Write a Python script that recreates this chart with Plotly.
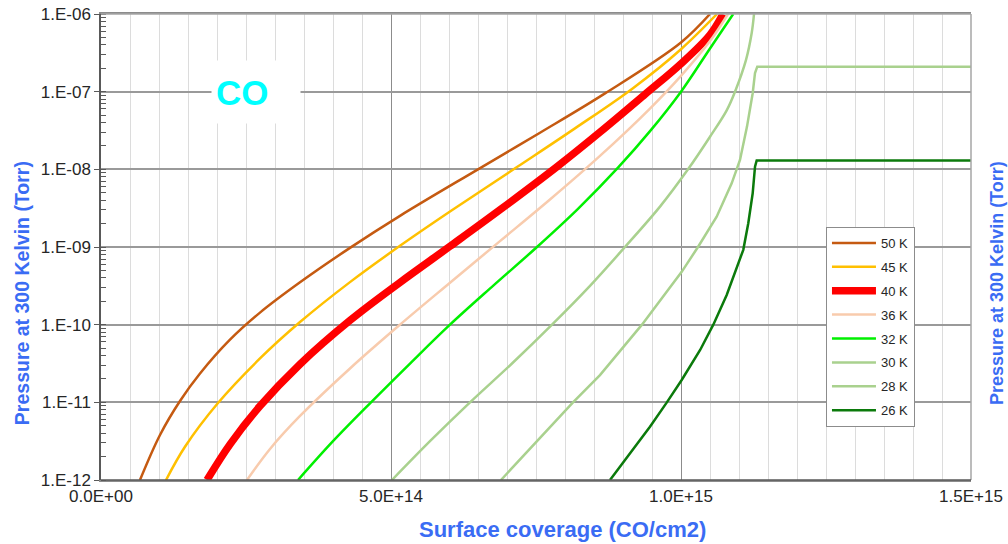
import plotly.graph_objects as go

# Adsorption isotherms of CO: equilibrium pressure (read at 300 K) vs surface coverage
labels = ["50 K", "45 K", "40 K", "36 K", "32 K", "30 K", "28 K", "26 K"]

cov_50 = [0.672e14, 1.017e14, 1.362e14, 1.707e14, 2.224e14, 2.741e14, 3.431e14, 4.293e14,
          5.155e14, 6.5e14, 7.569e14, 8.69e14, 10.0e14, 10.5e14]
p_50 = [1.0e-12, 3.8e-12, 1.04e-11, 2.35e-11, 6.4e-11, 1.43e-10, 3.51e-10, 9.75e-10,
        2.52e-9, 1.0e-8, 2.96e-8, 9.5e-8, 4.3e-7, 1.0e-6]

cov_45 = [1.121e14, 1.448e14, 2.017e14, 2.741e14, 3.431e14, 4.293e14, 5.155e14, 6.017e14,
          7.172e14, 8.172e14, 9.172e14, 10.0e14, 10.621e14]
p_45 = [1.0e-12, 2.68e-12, 9.8e-12, 3.67e-11, 1.08e-10, 3.53e-10, 1.035e-9, 2.86e-9,
        1.07e-8, 3.37e-8, 1.11e-7, 3.52e-7, 1.0e-6]

cov_40 = [1.828e14, 2.224e14, 2.741e14, 3.431e14, 4.293e14, 5.155e14, 6.017e14, 6.879e14,
          7.862e14, 8.603e14, 9.379e14, 10.0e14, 10.5e14, 10.724e14]
p_40 = [1.0e-12, 2.88e-12, 8.95e-12, 3.1e-11, 1.135e-10, 3.5e-10, 1.02e-9, 3.01e-9,
        1.08e-8, 3.01e-8, 9.23e-8, 2.29e-7, 5.4e-7, 1.0e-6]

cov_36 = [2.517e14, 2.914e14, 3.431e14, 4.293e14, 5.155e14, 6.017e14, 6.879e14, 7.741e14,
          8.603e14, 9.465e14, 10.0e14, 10.5e14, 10.81e14]
p_36 = [1.0e-12, 2.51e-12, 6.67e-12, 2.73e-11, 1.0e-10, 3.47e-10, 1.19e-9, 4.09e-9,
        1.49e-8, 6.07e-8, 1.6e-7, 4.48e-7, 1.0e-6]

cov_32 = [3.397e14, 4.0e14, 4.655e14, 5.328e14, 6.017e14, 6.759e14, 7.517e14, 8.224e14,
          8.914e14, 9.466e14, 10.0e14, 10.5e14, 10.9e14]
p_32 = [1.0e-12, 3.16e-12, 1.0e-11, 3.16e-11, 1.0e-10, 3.16e-10, 1.0e-9, 3.1e-9,
        1.05e-8, 3.1e-8, 1.0e-7, 3.6e-7, 1.0e-6]

cov_30 = [5.017e14, 5.672e14, 6.362e14, 7.086e14, 7.776e14, 8.431e14, 9.034e14, 9.638e14,
          10.121e14, 10.5e14, 10.788e14, 10.931e14, 11.121e14, 11.219e14, 11.259e14]
p_30 = [1.0e-12, 3.16e-12, 1.0e-11, 3.16e-11, 1.0e-10, 3.16e-10, 1.0e-9, 3.31e-9,
        1.0e-8, 2.63e-8, 5.75e-8, 1.0e-7, 2.57e-7, 5.69e-7, 1.0e-6]

cov_28 = [6.896e14, 7.517e14, 8.138e14, 8.603e14, 9.327e14, 10.012e14, 10.293e14, 10.615e14,
          10.874e14, 11.017e14, 11.138e14, 11.236e14, 11.276e14, 11.315e14, 15.0e14]
p_28 = [1.0e-12, 3.16e-12, 1.0e-11, 2.24e-11, 1.0e-10, 4.79e-10, 1.0e-9, 2.45e-9,
        6.61e-9, 1.32e-8, 3.55e-8, 9.55e-8, 1.74e-7, 2.1e-7, 2.1e-7]

cov_26 = [8.776e14, 9.465e14, 9.753e14, 10.012e14, 10.33e14, 10.557e14, 10.788e14,
          11.074e14, 11.16e14, 11.236e14, 11.276e14, 11.305e14, 15.0e14]
p_26 = [1.0e-12, 4.86e-12, 9.9e-12, 1.94e-11, 4.72e-11, 1.0e-10, 2.41e-10,
        9.2e-10, 2.02e-9, 4.92e-9, 1.08e-8, 1.3e-8, 1.3e-8]

coverages = [cov_50, cov_45, cov_40, cov_36, cov_32, cov_30, cov_28, cov_26]
pressures = [p_50, p_45, p_40, p_36, p_32, p_30, p_28, p_26]

x_tickvals = [0, 5e14, 10e14, 15e14]
x_ticktext = ["0.0E+00", "5.0E+14", "1.0E+15", "1.5E+15"]
y_tickvals = [1e-12, 1e-11, 1e-10, 1e-09, 1e-08, 1e-07, 1e-06]
y_ticktext = ["1.E-12", "1.E-11", "1.E-10", "1.E-09", "1.E-08", "1.E-07", "1.E-06"]

colors = ["#C55A11", "#FFC000", "#FF0000", "#F8CBAD", "#00F000", "#A9D18E", "#A9D18E", "#0B7A0B"]
widths = [2.5, 2.5, 7.5, 2.5, 2.5, 2.5, 2.5, 2.5]
shapes = ["spline", "spline", "spline", "spline", "spline", "spline", "linear", "linear"]

TITLE_BLUE = "#3A6CF4"
AXIS_DARK = "#595959"

fig = go.Figure()
for i, name in enumerate(labels):
    fig.add_trace(go.Scatter(
        x=coverages[i], y=pressures[i], name=name, mode="lines",
        legendgroup=name,
        line=dict(color=colors[i], width=widths[i], shape=shapes[i], smoothing=1.0),
    ))

fig.update_layout(
    width=1008, height=544,
    margin=dict(l=101, r=37, t=14, b=64),
    paper_bgcolor="white", plot_bgcolor="white",
    font=dict(family="Arial, Liberation Sans, sans-serif", color="#262626"),
    showlegend=True,
    legend=dict(
        x=0.8333, y=0.543, xanchor="left", yanchor="top",
        bgcolor="white", bordercolor="#8c8c8c", borderwidth=1,
        font=dict(size=13, color="#262626"),
        tracegroupgap=4, traceorder="grouped", itemwidth=44,
    ),
    xaxis=dict(
        range=[0, 15e14], tickmode="array", tickvals=x_tickvals, ticktext=x_ticktext,
        tickfont=dict(size=17), ticks="", automargin=False,
        showgrid=True, gridcolor="#8c8c8c", gridwidth=1.3,
        minor=dict(tickmode="linear", tick0=0, dtick=5e13, showgrid=True,
                   gridcolor="#dcdcdc", gridwidth=1.3, ticks=""),
        showline=True, linecolor="#8c8c8c", linewidth=1.5, mirror=True,
        zeroline=False,
    ),
    yaxis=dict(
        type="log", range=[-12, -6], tickmode="array", tickvals=y_tickvals, ticktext=y_ticktext,
        tickfont=dict(size=17), ticks="outside", ticklen=5, tickcolor=AXIS_DARK,
        automargin=False,
        showgrid=True, gridcolor="#9a9a9a", gridwidth=1.5,
        minor=dict(tickmode="linear", dtick="D1", ticks="inside", ticklen=5,
                   tickcolor=AXIS_DARK, showgrid=False),
        showline=True, linecolor=AXIS_DARK, linewidth=1.5,
        zeroline=False,
    ),
    yaxis2=dict(
        type="log", range=[-12, -6], overlaying="y", side="left", automargin=False,
        showticklabels=False, showgrid=False, zeroline=False, showline=False,
        ticks="", minor=dict(tickmode="linear", dtick="D1", ticks="outside", ticklen=3,
                             tickcolor=AXIS_DARK, showgrid=False),
    ),
)

# top and right frame lighter than the left axis
fig.add_shape(type="line", xref="paper", yref="paper", x0=0, x1=1, y0=1, y1=1,
              line=dict(color="#a6a6a6", width=1.5))
fig.add_shape(type="line", xref="paper", yref="paper", x0=1, x1=1, y0=0, y1=1,
              line=dict(color="#a6a6a6", width=1.5))
fig.add_shape(type="line", xref="paper", yref="paper", x0=0, x1=1, y0=0, y1=0,
              line=dict(color=AXIS_DARK, width=1.5))

fig.add_annotation(
    x=2.672e14, y=-7.0, xref="x", yref="y", text="<b>CO</b>", showarrow=False,
    xanchor="center", yanchor="middle", align="left",
    font=dict(size=35, color="#00FFFF", family="Arial, Liberation Sans, sans-serif"),
    bgcolor="white", width=80, height=54, borderpad=4,
)
fig.add_annotation(
    x=0.531, y=-0.107, xref="paper", yref="paper", text="<b>Surface coverage (CO/cm2)</b>",
    showarrow=False, xanchor="center", yanchor="middle",
    font=dict(size=22, color=TITLE_BLUE),
)
fig.add_annotation(
    x=-0.0908, y=0.401, xref="paper", yref="paper", text="<b>Pressure at 300 Kelvin (Torr)</b>",
    showarrow=False, textangle=-90, xanchor="center", yanchor="middle",
    font=dict(size=19.5, color=TITLE_BLUE),
)
fig.add_annotation(
    x=1.03, y=0.423, xref="paper", yref="paper", text="<b>Pressure at 300 Kelvin (Torr)</b>",
    showarrow=False, textangle=-90, xanchor="center", yanchor="middle",
    font=dict(size=18, color=TITLE_BLUE),
)

fig.write_html("out.html")
